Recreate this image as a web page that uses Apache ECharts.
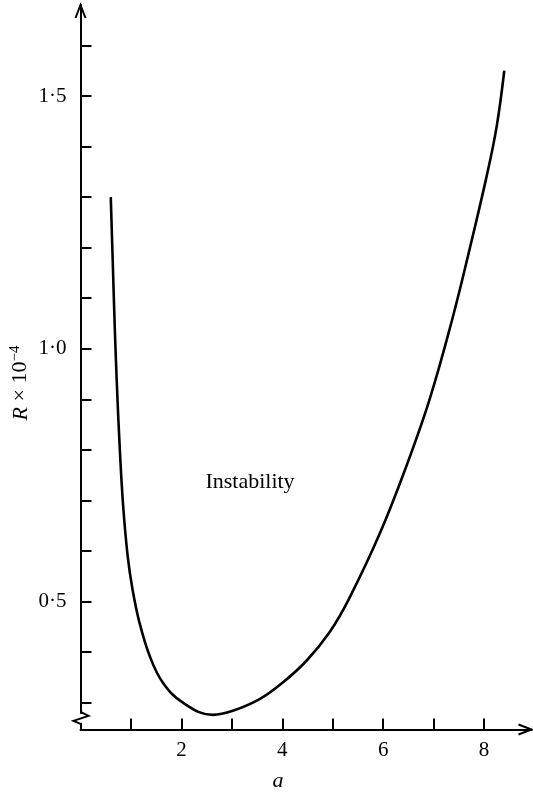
<!DOCTYPE html>
<html>
<head>
<meta charset="utf-8">
<script src="https://cdn.jsdelivr.net/npm/echarts@6/dist/echarts.min.js"></script>
<style>html,body{margin:0;padding:0;background:#fff}#c{width:533px;height:792px}</style>
</head>
<body>
<div id="c"></div>
<script>
// Data
const curveA = [0.60,0.64,0.68,0.725,0.78,0.845,0.935,1.03,1.165,1.37,1.63,2.03,2.62,3.02,3.55,4.01,4.48,4.94,5.32,5.93,6.46,6.92,7.36,7.72,8.05,8.25,8.40];
const curveR = [1.30,1.17,1.04,0.92,0.80,0.69,0.59,0.525,0.46,0.393,0.34,0.30,0.276,0.284,0.307,0.34,0.383,0.44,0.505,0.634,0.768,0.90,1.055,1.200,1.341,1.44,1.55];
const xTickValues = [1,2,3,4,5,6,7,8];
const xLabelValues = [2,4,6,8];
const yTickValues = [0.3,0.4,0.5,0.6,0.7,0.8,0.9,1.0,1.1,1.2,1.3,1.4,1.5,1.6];
const yLabelValues = [0.5,1.0,1.5];
const annotation = 'Instability';
const xName = 'a';

const FONT = "'Liberation Serif','DejaVu Serif',serif";
const chart = echarts.init(document.getElementById('c'), null, {renderer:'canvas'});
const data = curveA.map((a,i)=>[a,curveR[i]]);
const option = {
  animation:false,
  backgroundColor:'#fff',
  grid:{left:80.5, right:533-531.5, top:5, bottom:792-729.5, containLabel:false},
  xAxis:{
    type:'value', min:0, max:8.94,
    splitLine:{show:false},
    axisLine:{lineStyle:{color:'#000',width:2}},
    axisTick:{inside:true, length:11, lineStyle:{color:'#000',width:2}, customValues:xTickValues},
    axisLabel:{customValues:xLabelValues, margin:10, color:'#000', fontSize:21, fontFamily:FONT}
  },
  yAxis:{
    type:'value', min:0.247, max:1.68,
    splitLine:{show:false},
    axisLine:{lineStyle:{color:'#000',width:2}},
    axisTick:{inside:true, length:11, lineStyle:{color:'#000',width:2}, customValues:yTickValues},
    axisLabel:{customValues:yLabelValues, margin:14, color:'#000', fontSize:21, fontFamily:FONT,
      formatter:v=>v.toFixed(1).replace('.','·')}
  },
  series:[{
    type:'line', data:data, smooth:0.4, showSymbol:false,
    lineStyle:{color:'#000', width:2.6}
  }]
};
chart.setOption(option);
const p0 = chart.convertToPixel({gridIndex:0},[0,0.27]);
const pTop = chart.convertToPixel({gridIndex:0},[0,1.68]);
const pRight = chart.convertToPixel({gridIndex:0},[8.94,0.247]);
const x0 = p0[0], yb = p0[1];
chart.setOption({
  graphic:[
    {type:'rect', shape:{x:x0-1.5,y:yb-4,width:3,height:9}, style:{fill:'#fff'}, z:10},
    {type:'polyline', shape:{points:[[x0,yb-6],[x0+8,yb-2],[x0-7,yb+3],[x0,yb+6]]}, style:{stroke:'#000',lineWidth:2,fill:null}, z:11},
    {type:'polyline', shape:{points:[[pTop[0]-5,pTop[1]+13],[pTop[0],pTop[1]],[pTop[0]+5,pTop[1]+13]]}, style:{stroke:'#000',lineWidth:2,fill:null}, z:11},
    {type:'polyline', shape:{points:[[pRight[0]-13,pRight[1]-5],[pRight[0],pRight[1]],[pRight[0]-13,pRight[1]+5]]}, style:{stroke:'#000',lineWidth:2,fill:null}, z:11},
    {type:'text', x:250, y:482, style:{text:annotation, font:"22px "+FONT, fill:'#000', align:'center', verticalAlign:'middle'}},
    {type:'text', x:278, y:781, style:{text:xName, font:"italic 22px "+FONT, fill:'#000', align:'center', verticalAlign:'middle'}},
    {type:'text', x:20, y:383, rotation:Math.PI/2, style:{
      text:'{i|R} × 10{s|−4}', align:'center', verticalAlign:'middle', fill:'#000',
      font:"22px "+FONT,
      rich:{
        i:{fontStyle:'italic', fontSize:22, fontFamily:FONT, fill:'#000', lineHeight:24, verticalAlign:'bottom'},
        s:{fontSize:15, fontFamily:FONT, fill:'#000', lineHeight:24, verticalAlign:'top'}
      }}}
  ]
});
</script>
</body>
</html>
